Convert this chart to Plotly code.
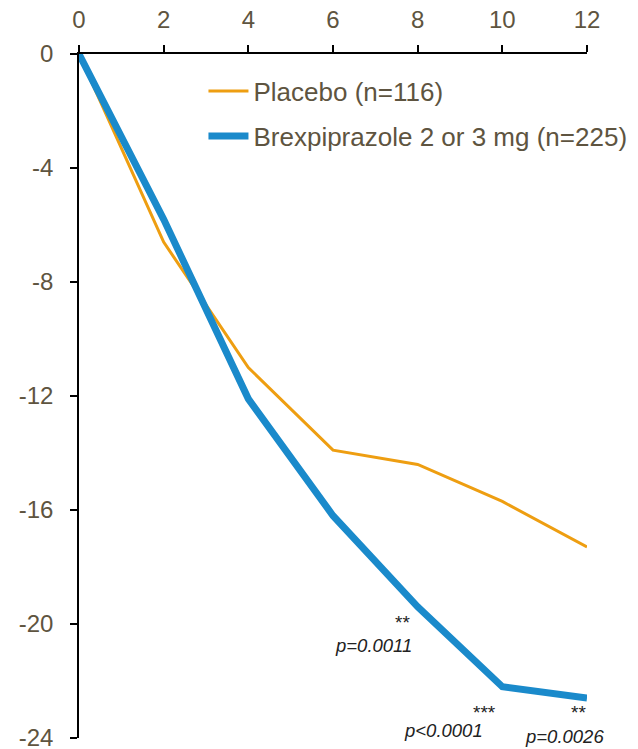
import plotly.graph_objects as go

weeks = [0, 2, 4, 6, 8, 10, 12]
placebo = [0, -6.6, -11.0, -13.9, -14.4, -15.7, -17.3]
brex = [0, -5.8, -12.1, -16.2, -19.4, -22.2, -22.6]
x_ticks = [0, 2, 4, 6, 8, 10, 12]
y_ticks = [0, -4, -8, -12, -16, -20, -24]
y_ticktext = ["0", "-4", "-8", "-12", "-16", "-20", "-24"]

stars = ["**", "***", "**"]
star_x = [7.63, 9.57, 11.79]
star_y = [-19.95, -23.1, -23.12]
pvals = ["p=0.0011", "p<0.0001", "p=0.0026"]
p_x = [6.95, 8.62, 11.48]
p_y = [-20.77, -23.75, -23.95]

text_color = "#5E5440"
fig = go.Figure()
fig.add_trace(go.Scatter(x=weeks, y=placebo, mode="lines", name="Placebo (n=116)",
                         legendgroup="a", line=dict(color="#EE9E11", width=3)))
fig.add_trace(go.Scatter(x=weeks, y=brex, mode="lines", name="Brexpiprazole 2 or 3 mg (n=225)",
                         legendgroup="b", line=dict(color="#1A8ACB", width=7)))

for s, x, y in zip(stars, star_x, star_y):
    fig.add_annotation(x=x, y=y, text=s, showarrow=False, font=dict(size=19, color="#222222"))
for s, x, y in zip(pvals, p_x, p_y):
    fig.add_annotation(x=x, y=y, text="<i>" + s + "</i>", showarrow=False,
                       font=dict(size=18.5, color="#222222"))

fig.update_layout(
    width=638, height=749,
    margin=dict(l=79, r=51, t=54, b=11, autoexpand=False),
    paper_bgcolor="white", plot_bgcolor="white",
    font=dict(family="Liberation Sans, Arial", size=24, color=text_color),
    showlegend=True,
    legend=dict(x=0.245, y=0.98, xanchor="left", yanchor="top", bgcolor="rgba(0,0,0,0)",
                font=dict(size=26, color=text_color), tracegroupgap=8, itemwidth=40),
    xaxis=dict(side="top", range=[0, 12], tickvals=x_ticks, showgrid=False, zeroline=False,
               showline=True, linecolor="black", linewidth=1.5, ticks="outside", ticklen=7,
               tickcolor="black", tickwidth=1.5, ticklabelstandoff=8, automargin=False,
               ticklabeloverflow="allow", tickfont=dict(size=24, color=text_color)),
    yaxis=dict(range=[-24, 0], tickvals=y_ticks, ticktext=y_ticktext, showgrid=False,
               zeroline=False, showline=True, linecolor="black", linewidth=1.5,
               ticks="outside", ticklen=7, tickcolor="black", tickwidth=1.5, automargin=False,
               ticklabeloverflow="allow", ticklabelstandoff=12,
               tickfont=dict(size=24, color=text_color)),
)
fig.write_html("out.html")
